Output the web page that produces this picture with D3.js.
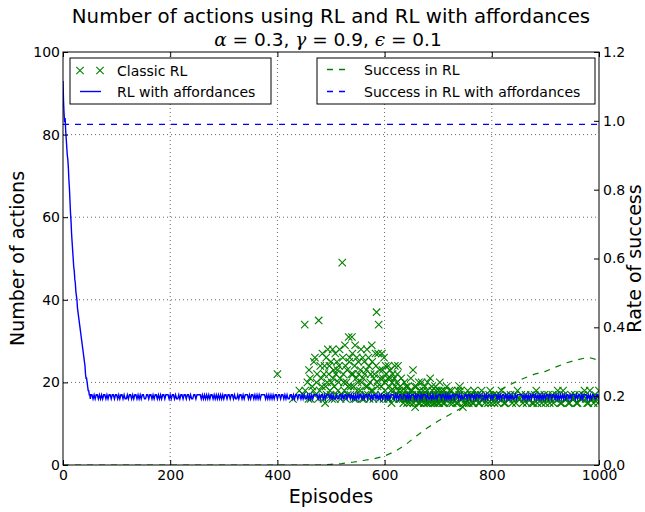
<!DOCTYPE html>
<html><head><meta charset="utf-8">
<script src="https://cdn.jsdelivr.net/npm/d3@7"></script>
<style>body{margin:0;background:#fff} svg{display:block} text{font-family:"DejaVu Sans",sans-serif;fill:#000}</style>
</head><body><svg id="c" width="645" height="512"></svg>
<script>
// ---------------- data ----------------
const xTicks = [0, 200, 400, 600, 800, 1000];
const yLeftTicks = [0, 20, 40, 60, 80, 100];
const yRightTicks = [0, 0.2, 0.4, 0.6, 0.8, 1.0, 1.2];

// RL with affordances: number of actions, episodes 0..52
const affEarlyActions = [93,88,85,83,84,81,79,77,75,74,72,69,67,64,61,59,56,54,52,50,48,47,45,44,42,41,40,38,37,36,35,34,33,32,31,30,29,28,27,26,25,24,22,21,21,20,19,18,18,17,17,16,17];
// RL with affordances steady part: every 2nd episode from 54, each digit d means 10+d actions
const affSteadyStart = 54, affSteadyStep = 2;
const affSteadyDigits = ["7676776767","6776767767","7677676776","7667677676","7767676776","6776776767","7676767767","7767677676",
"6767767767","7676677677","7767676767","6776767676","7676776776","7767667677","6767776767","7676767677",
"7767676767","6776776776","7676677676","7767767676","6767676777","7676776767","7767676676","6776767767",
"7676767676","7767677677","6767767676","7677676767","7767676776","6776767677","7676776767","7767667676",
"6767776776","7676767767","7767676677","6776776767","7676767676","7767677767","6767767676","7676676777",
"7767676767","6776767676","7676776776","7767676767","6767767677","7676776767","7767676776","6776767767"].join("");

// Classic RL: episodes with a recorded number of actions (three groups)
const rlEpisodesA = [400,429,441,448,451,456,459,462,465,468,471,474,477,479,482,484,486,488,490,492,494,496,498,500,502,504,506,508,510,512,514,516,518,521,523,525,527,529,531,533,535,537,539,541,543,545,547,549,551,553,555,557,559,561,563,565,567,569,571,573,575,577,579,581,583,585,587,589,591,593,595,597,599,601,603,605,607,609,611,613,615,617,619,621,623,625,627,629,631,633,635,637,639,641,643,645,647,649,651,653,655,657,659,661,663,665,667,669,671,673,675,677,679,681,683,685,687,689,691,693,695,697,699,701,703,705,707,709,711,713,716,719,722,725,728,731,734,737,740,743,746,749,752,755,758,761,764,767,770,773,777,781,785,789,793,797,801,805,809,813,818,823,828,833,838,843,848,853,858,863,868,873,878,883,888,893,898,903,908,913,918,923,928,933,938,943,948,953,958,963,968,973,978,983,988,993,998];
const rlActionsA = [22,16,18,17,34,20,23,16,19,25,17,22,35,18,21,27,16,24,19,17,28,22,18,25,16,21,19,27,17,23,20,28,16,49,22,18,24,20,17,31,26,19,31,22,16,29,21,18,25,17,23,20,26,16,22,19,28,17,24,20,18,25,16,22,27,37,19,34,23,17,27,21,26,18,22,16,24,19,21,15,22,18,24,17,20,24,16,19,21,17,15,20,18,16,19,17,15,21,18,23,16,14,19,17,15,18,16,20,17,15,19,16,18,15,17,21,16,18,15,17,19,16,15,18,20,16,17,15,18,16,19,17,15,18,16,17,15,18,19,16,14,17,15,18,16,17,15,18,16,17,15,18,16,17,15,18,16,15,17,16,18,15,17,16,15,17,18,16,15,17,16,17,15,18,16,15,17,16,15,17,16,18,15,18,16,15,17,16,15,17,16,18,15,18,16,17,15];
const rlEpisodesB = [452,458,461,467,470,473,476,480,483,487,489,491,493,497,499,501,503,505,507,509,511,513,515,517,520,522,524,526,528,530,532,534,536,538,540,542,544,546,548,550,552,554,556,558,560,562,564,566,568,570,572,574,576,578,580,582,584,586,588,590,592,594,596,598,600,602,604,606,608,610,612,614,616,618,620,622,624,626,628];
const rlActionsB = [18,16,21,18,26,20,16,24,19,22,15,26,20,24,17,20,28,23,16,22,25,18,24,21,17,26,20,29,16,23,19,25,17,22,27,19,24,16,26,20,22,18,28,16,21,25,17,23,19,26,16,22,29,18,21,17,24,20,27,16,21,19,23,16,20,24,17,21,16,23,18,20,16,21,19,17,22,18,16];
const rlEpisodesC = [630,632,634,636,638,640,642,644,646,648,650,652,654,656,658,660,662,664,666,668,670,672,674,676,678,680,682,684,686,688,690,692,694,696,698,700,702,704,706,708,710,712,715,718,721,724,727,730,733,736,739,742,745,748,751,754,757,760,763,766,769,772,775,779,783,787,791,795,799,803,807,811,815,820,825,830,835,840,845,850,855,860,865,870,875,880,885,890,895,900,905,910,915,920,925,930,935,940,945,950,955,960,965,970,975,980,985,990,995,1000];
const rlActionsC = [16,18,16,17,16,19,15,17,16,18,16,17,15,19,16,17,16,20,15,17,16,18,16,17,15,20,16,17,15,19,16,17,15,18,16,17,15,16,18,16,17,15,17,16,18,16,15,17,16,15,17,18,16,15,16,17,15,16,17,15,17,16,15,17,16,15,16,17,15,17,16,15,17,16,15,16,17,16,15,16,17,16,15,16,15,17,15,17,16,15,17,16,15,17,16,15,17,16,15,16,17,15,16,17,16,15,16,15,16,18];

// Rate of success (right axis)
const successEpisodes = [0,460,480,500,520,540,560,580,600,620,640,660,680,700,720,740,760,780,800,820,840,860,880,900,920,940,960,980,1000];
const successRL = [0,0,0,0.002,0.004,0.008,0.013,0.018,0.026,0.04,0.06,0.085,0.108,0.128,0.145,0.163,0.18,0.195,0.208,0.222,0.238,0.252,0.264,0.272,0.285,0.297,0.306,0.313,0.304];
const successAffEpisodes = [0, 1000];
const successAff = [0.99, 0.99];

// ---------------- chart ----------------
const svg = d3.select("#c");
const L = 63, R = 599, T = 52, B = 465;
const x = d3.scaleLinear().domain([0, 1000]).range([L, R]);
const yL = d3.scaleLinear().domain([0, 100]).range([B, T]);
const yR = d3.scaleLinear().domain([0, 1.2]).range([B, T]);
const GREEN = "#008000", BLUE = "#0000ff";
const XMARK = "M-3.7,-3.7L3.7,3.7M-3.7,3.7L3.7,-3.7";

svg.append("rect").attr("width", 645).attr("height", 512).attr("fill", "#fff");
svg.append("defs").append("clipPath").attr("id", "clip")
  .append("rect").attr("x", L).attr("y", T).attr("width", R - L).attr("height", B - T);

// grid
const grid = svg.append("g").attr("stroke", "#000").attr("stroke-width", 0.6).attr("stroke-dasharray", "1,3");
xTicks.slice(1, -1).forEach(t => grid.append("line").attr("x1", x(t)).attr("x2", x(t)).attr("y1", T).attr("y2", B));
yLeftTicks.slice(1, -1).forEach(t => grid.append("line").attr("x1", L).attr("x2", R).attr("y1", yL(t)).attr("y2", yL(t)));

const plot = svg.append("g").attr("clip-path", "url(#clip)");

// classic RL scatter
const rlEpisodes = rlEpisodesA.concat(rlEpisodesB, rlEpisodesC);
const rlActions = rlActionsA.concat(rlActionsB, rlActionsC);
const rlPts = rlEpisodes.map((e, i) => ({ e, v: rlActions[i] }));
plot.append("g").selectAll("path").data(rlPts).join("path")
  .attr("transform", d => `translate(${x(d.e)},${yL(d.v)})`)
  .attr("d", XMARK)
  .attr("stroke", GREEN).attr("stroke-width", 1.1).attr("fill", "none");

// RL with affordances line
const affSeries = affEarlyActions.map((v, i) => ({ e: i, v }))
  .concat(affSteadyDigits.split("").map((d, i) => ({ e: affSteadyStart + affSteadyStep * i, v: 10 + (+d) })));
plot.append("path").datum(affSeries)
  .attr("d", d3.line().x(d => x(d.e)).y(d => yL(d.v)))
  .attr("fill", "none").attr("stroke", BLUE).attr("stroke-width", 1.4);

// success lines (twin axis)
const lineR = d3.line().x(d => x(d.e)).y(d => yR(d.v));
plot.append("path").datum(successEpisodes.map((e, i) => ({ e, v: successRL[i] })))
  .attr("d", lineR).attr("fill", "none").attr("stroke", GREEN).attr("stroke-width", 1.2).attr("stroke-dasharray", "6,6");
plot.append("path").datum(successAffEpisodes.map((e, i) => ({ e, v: successAff[i] })))
  .attr("d", lineR).attr("fill", "none").attr("stroke", BLUE).attr("stroke-width", 1.2).attr("stroke-dasharray", "6,6");

// frame
svg.append("rect").attr("x", L).attr("y", T).attr("width", R - L).attr("height", B - T)
  .attr("fill", "none").attr("stroke", "#000").attr("stroke-width", 1);

// axes
function styleAxis(g) {
  g.select(".domain").remove();
  g.selectAll("text").attr("font-size", 14).attr("font-family", "DejaVu Sans").attr("fill", "#000");
  g.selectAll("line").attr("stroke", "#000");
}
svg.append("g").attr("transform", `translate(0,${B})`)
  .call(d3.axisBottom(x).tickValues(xTicks).tickSize(-5).tickPadding(5).tickFormat(d3.format("d"))).call(styleAxis);
svg.append("g").attr("transform", `translate(0,${T})`)
  .call(d3.axisTop(x).tickValues(xTicks).tickSize(-5).tickFormat("")).call(styleAxis);
svg.append("g").attr("transform", `translate(${L},0)`)
  .call(d3.axisLeft(yL).tickValues(yLeftTicks).tickSize(-5).tickPadding(3).tickFormat(d3.format("d"))).call(styleAxis);
svg.append("g").attr("transform", `translate(${R},0)`)
  .call(d3.axisRight(yR).tickValues(yRightTicks).tickSize(-5).tickPadding(4).tickFormat(d3.format(".1f"))).call(styleAxis);

// titles
const cx = (L + R) / 2;
svg.append("text").attr("x", cx).attr("y", 23).attr("text-anchor", "middle").attr("font-size", 19.8)
  .text("Number of actions using RL and RL with affordances");
const t2 = svg.append("text").attr("x", cx - 3).attr("y", 46).attr("text-anchor", "middle").attr("font-size", 18.5);
[["α", true], [" = 0.3, ", false], ["γ", true], [" = 0.9, ", false], ["ϵ", true], [" = 0.1", false]].forEach(([s, it]) => {
  const ts = t2.append("tspan").text(s);
  if (it) ts.attr("font-style", "italic").attr("font-family", "DejaVu Serif");
});
svg.append("text").attr("x", cx).attr("y", 503).attr("text-anchor", "middle").attr("font-size", 19).text("Episodes");
svg.append("text").attr("transform", `translate(24,${(T + B) / 2}) rotate(-90)`).attr("text-anchor", "middle").attr("font-size", 19).text("Number of actions");
svg.append("text").attr("transform", `translate(641,${(T + B) / 2}) rotate(-90)`).attr("text-anchor", "middle").attr("font-size", 19).text("Rate of success");

// legends
const lg1 = svg.append("g");
lg1.append("rect").attr("x", 70).attr("y", 58).attr("width", 201).attr("height", 46).attr("fill", "#fff").attr("stroke", "#000").attr("stroke-width", 1);
[80, 100].forEach(mx => lg1.append("path").attr("transform", `translate(${mx},70.5)`)
  .attr("d", XMARK).attr("stroke", GREEN).attr("stroke-width", 1.1).attr("fill", "none"));
lg1.append("text").attr("x", 117).attr("y", 76).attr("font-size", 14).text("Classic RL");
lg1.append("line").attr("x1", 80).attr("x2", 101).attr("y1", 91.5).attr("y2", 91.5).attr("stroke", BLUE).attr("stroke-width", 1.4);
lg1.append("text").attr("x", 117).attr("y", 97).attr("font-size", 14).text("RL with affordances");

const lg2 = svg.append("g");
lg2.append("rect").attr("x", 317).attr("y", 58).attr("width", 278).attr("height", 46).attr("fill", "#fff").attr("stroke", "#000").attr("stroke-width", 1);
lg2.append("line").attr("x1", 327).attr("x2", 350).attr("y1", 69.5).attr("y2", 69.5).attr("stroke", GREEN).attr("stroke-width", 1.4).attr("stroke-dasharray", "6,6");
lg2.append("text").attr("x", 364).attr("y", 75).attr("font-size", 14).text("Success in RL");
lg2.append("line").attr("x1", 327).attr("x2", 350).attr("y1", 91.5).attr("y2", 91.5).attr("stroke", BLUE).attr("stroke-width", 1.4).attr("stroke-dasharray", "6,6");
lg2.append("text").attr("x", 364).attr("y", 97).attr("font-size", 14).text("Success in RL with affordances");
</script></body></html>
